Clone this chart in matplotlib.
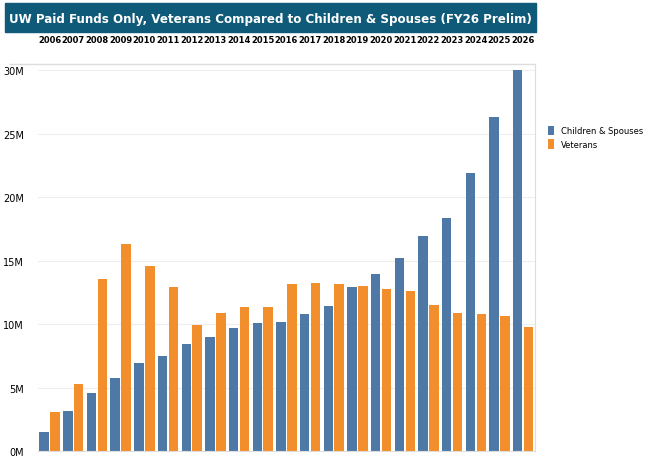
import matplotlib
matplotlib.use("Agg")
import matplotlib.pyplot as plt
import numpy as np
from matplotlib.patches import Rectangle

years = [str(y) for y in range(2006, 2027)]
children = [1.53, 3.13, 4.58, 5.74, 6.96, 7.53, 8.43, 8.97, 9.70, 10.06, 10.14,
            10.78, 11.40, 12.93, 13.94, 15.18, 16.91, 18.33, 21.93, 26.33, 30.02]
veterans = [3.08, 5.28, 13.58, 16.29, 14.58, 12.96, 9.96, 10.86, 11.38, 11.38, 13.14,
            13.21, 13.14, 13.01, 12.75, 12.65, 11.48, 10.86, 10.81, 10.63, 9.78]

blue = "#4e79a7"
orange = "#f28e2b"

fig = plt.figure(figsize=(6.63, 4.77), dpi=100)
ax = fig.add_axes([0.057, 0.052, 0.75, 0.812])

x = np.arange(len(years))
ax.bar(x - 0.23, children, width=0.4, color=blue, label="Children & Spouses")
ax.bar(x + 0.23, veterans, width=0.4, color=orange, label="Veterans")

ax.set_xlim(-0.5, len(years) - 0.5)
ax.set_ylim(0, 30.5)
ax.set_yticks([0, 5, 10, 15, 20, 25, 30])
ax.set_yticklabels([f"{v}M" for v in [0, 5, 10, 15, 20, 25, 30]], fontsize=7)
ax.grid(axis="y", color="#eeeeee", linewidth=0.8)
ax.set_axisbelow(True)
ax.tick_params(axis="y", length=0, pad=10)

ax.xaxis.tick_top()
ax.set_xticks(x)
ax.set_xticklabels(years, fontsize=6, fontweight="bold")
ax.tick_params(axis="x", length=0, pad=14)
for s in ["left", "top"]:
    ax.spines[s].set_visible(False)
ax.spines["right"].set_color("#dddddd")
ax.spines["bottom"].set_color("#dddddd")

# header line under year labels
fig.add_artist(plt.Line2D([0.015, 0.807], [0.864, 0.864], color="#dddddd", lw=1))

# title bar
fig.add_artist(Rectangle((0.008, 0.931), 0.8, 0.06, color="#0e5a78", transform=fig.transFigure))
fig.text(0.408, 0.96, "UW Paid Funds Only, Veterans Compared to Children & Spouses (FY26 Prelim)",
         color="white", fontsize=8.6, fontweight="bold", ha="center", va="center")

ax.legend(loc="upper left", bbox_to_anchor=(1.01, 0.86), frameon=False, fontsize=6,
          handlelength=0.8, handleheight=1.4, labelspacing=0.5)

fig.savefig("out.png", dpi=100, facecolor="white")
